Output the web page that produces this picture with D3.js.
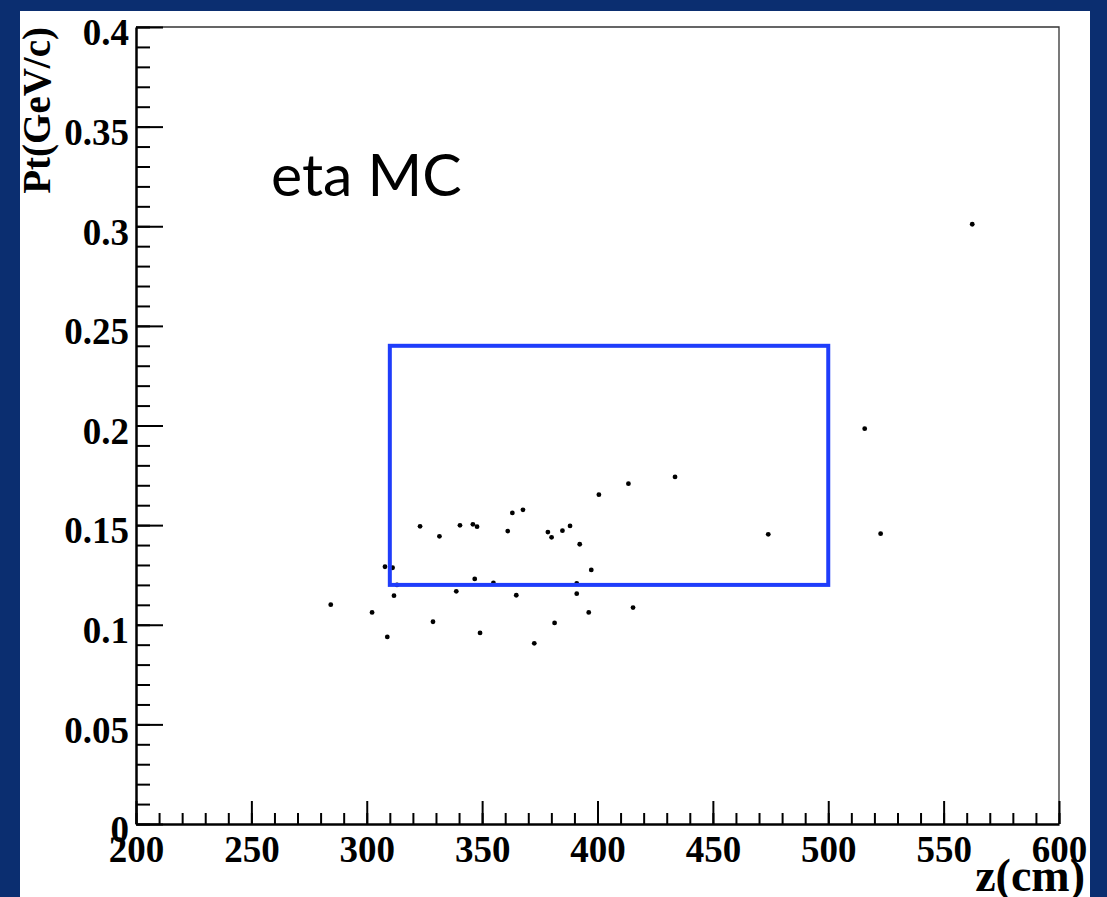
<!DOCTYPE html>
<html>
<head>
<meta charset="UTF-8">
<title>eta MC</title>
<script src="https://cdn.jsdelivr.net/npm/d3@7"></script>
<style>
  html, body { margin: 0; padding: 0; background: #0b2e70; }
  svg { display: block; }
  .tick text { font-family: "Liberation Serif", "Times New Roman", serif; font-weight: bold; }
</style>
</head>
<body>
<script>

// data
var zVals  = [323.1, 331.5, 340.4, 346.0, 347.8, 361.1, 363.1, 367.7, 378.5, 380.1,
              384.8, 388.1, 392.3, 400.6, 307.9, 311.2, 313.1, 311.8, 284.4, 302.3,
              308.9, 328.7, 338.8, 346.8, 349.1, 354.9, 364.8, 372.6, 381.4, 391.0,
              391.0, 397.3, 396.2, 413.4, 433.6, 474.0, 522.7, 415.4, 562.4, 515.8];
var ptVals = [0.1494, 0.1444, 0.1499, 0.1504, 0.1492, 0.1470, 0.1561, 0.1577, 0.1465, 0.1439,
              0.1472, 0.1496, 0.1404, 0.1653, 0.1291, 0.1286, 0.1200, 0.1146, 0.1101, 0.1062,
              0.0939, 0.1015, 0.1168, 0.1230, 0.0959, 0.1210, 0.1148, 0.0907, 0.1009, 0.1208,
              0.1156, 0.1275, 0.1062, 0.1708, 0.1742, 0.1454, 0.1457, 0.1086, 0.3010, 0.1984];

var boxZ  = [310, 500];
var boxPt = [0.12, 0.24];

var xTicks = [200, 250, 300, 350, 400, 450, 500, 550, 600];
var xTickLabels = ["200", "250", "300", "350", "400", "450", "500", "550", "600"];
var yTicks = [0, 0.05, 0.1, 0.15, 0.2, 0.25, 0.3, 0.35, 0.4];
var yTickLabels = ["0", "0.05", "0.1", "0.15", "0.2", "0.25", "0.3", "0.35", "0.4"];

var W = 1107, H = 897;

var svg = d3.select("body").append("svg")
            .attr("width", W)
            .attr("height", H);

// blue slide background and white pad
svg.append("rect").attr("width", W).attr("height", H).attr("fill", "#0b2e70");
svg.append("rect").attr("x", 20).attr("y", 11).attr("width", 1070).attr("height", H - 11).attr("fill", "#ffffff");

var x = d3.scaleLinear().domain([200, 600]).range([136, 1059]);
var y = d3.scaleLinear().domain([0, 0.4]).range([824, 27]);

// thin frame on top and right
svg.append("path")
   .attr("d", "M" + x(200) + "," + y(0.4) + " H" + x(600) + " V" + y(0))
   .attr("fill", "none")
   .attr("stroke", "#333")
   .attr("stroke-width", 1.3);

// minor ticks first, then major ticks with labels
var xMinor = d3.range(200, 601, 10);
var yMinor = d3.range(0, 41).map(function(d) { return d / 100; });

svg.append("g")
   .attr("transform", "translate(0," + y(0) + ")")
   .call(d3.axisBottom(x).tickValues(xMinor).tickSize(-11).tickSizeOuter(0).tickFormat(""))
   .call(function(g) { g.select(".domain").remove(); });

svg.append("g")
   .attr("transform", "translate(" + x(200) + ",0)")
   .call(d3.axisLeft(y).tickValues(yMinor).tickSize(-14).tickSizeOuter(0).tickFormat(""))
   .call(function(g) { g.select(".domain").remove(); });

var xAxis = svg.append("g")
   .attr("transform", "translate(0," + y(0) + ")")
   .call(d3.axisBottom(x).tickValues(xTicks).tickSize(-23).tickSizeOuter(0)
           .tickFormat(function(d, i) { return xTickLabels[i]; }));
xAxis.selectAll("text")
     .attr("y", 38).attr("dy", null)
     .attr("font-size", 37).attr("fill", "#000");

var yAxis = svg.append("g")
   .attr("transform", "translate(" + x(200) + ",0)")
   .call(d3.axisLeft(y).tickValues(yTicks).tickSize(-27).tickSizeOuter(0)
           .tickFormat(function(d, i) { return yTickLabels[i]; }));
yAxis.selectAll("text")
     .attr("x", -7).attr("dy", "0.48em")
     .attr("font-size", 37).attr("fill", "#000");

svg.selectAll(".tick line").attr("stroke", "#000").attr("stroke-width", 2);
svg.selectAll(".domain").attr("stroke", "#000").attr("stroke-width", 2.5);

// axis titles
svg.append("text")
   .attr("x", 1085).attr("y", 891)
   .attr("text-anchor", "end")
   .attr("font-family", "Liberation Serif, serif")
   .attr("font-weight", "bold")
   .attr("font-size", 46)
   .text("z(cm)");

svg.append("text")
   .attr("transform", "translate(50,27) rotate(-90)")
   .attr("text-anchor", "end")
   .attr("font-family", "Liberation Serif, serif")
   .attr("font-weight", "bold")
   .attr("font-size", 39)
   .text("Pt(GeV/c)");

// scatter points
svg.append("g").selectAll("circle")
   .data(zVals)
   .join("circle")
   .attr("cx", function(d) { return x(d); })
   .attr("cy", function(d, i) { return y(ptVals[i]); })
   .attr("r", 2.4)
   .attr("fill", "#000");

// selection box
svg.append("rect")
   .attr("x", x(boxZ[0]))
   .attr("y", y(boxPt[1]))
   .attr("width", x(boxZ[1]) - x(boxZ[0]))
   .attr("height", y(boxPt[0]) - y(boxPt[1]))
   .attr("fill", "none")
   .attr("stroke", "#1f3dfb")
   .attr("stroke-width", 4);

// label
svg.append("text")
   .attr("x", 271).attr("y", 196)
   .attr("font-family", "Lato, sans-serif")
   .attr("font-size", 59)
   .attr("fill", "#000")
   .text("eta MC");

</script>
</body>
</html>
